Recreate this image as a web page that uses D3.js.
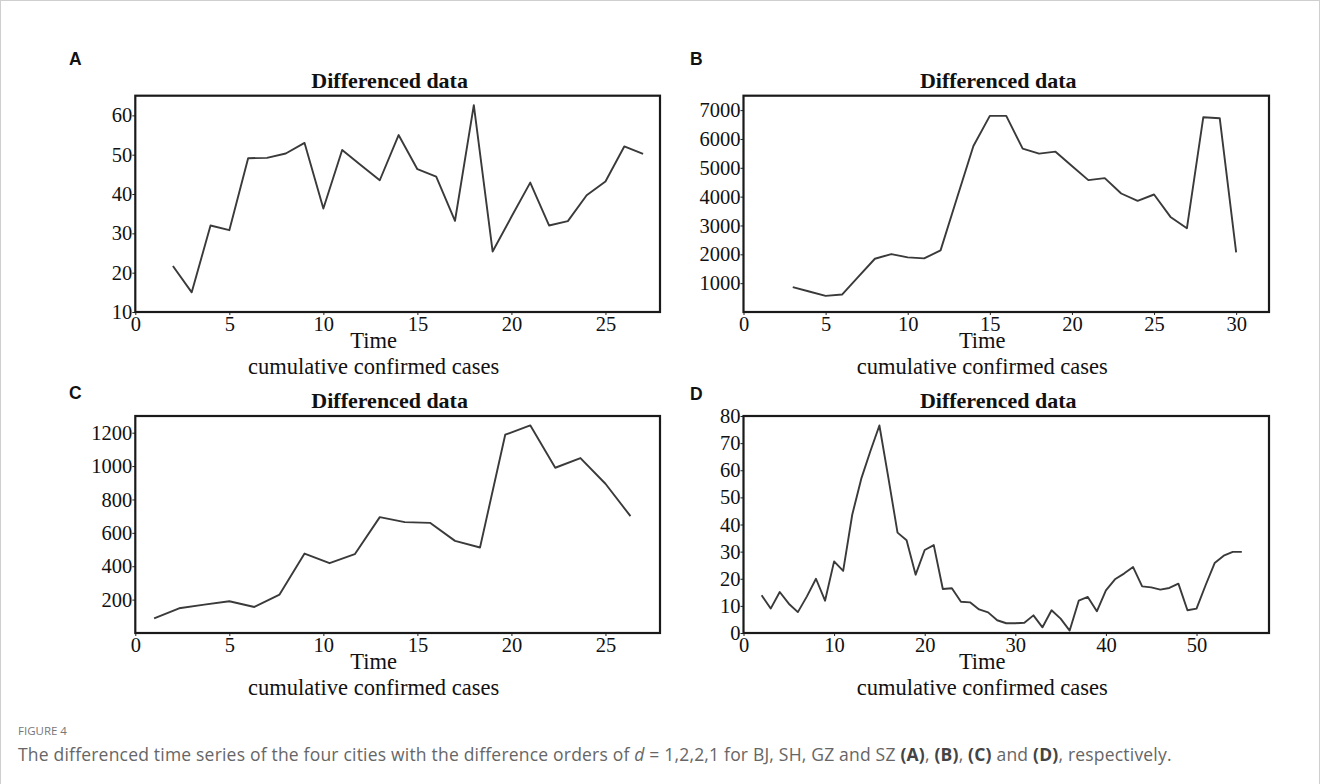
<!DOCTYPE html>
<html>
<head>
<meta charset="utf-8">
<script src="https://cdn.jsdelivr.net/npm/d3@7"></script>
<style>
  html, body { margin: 0; padding: 0; background: #fff; }
  svg { display: block; }
</style>
</head>
<body>
<svg id="fig" width="1320" height="784"></svg>
<script>
// Panel A (BJ), first-order differences
const timeA = [2,3,4,5,6,7,8,9,10,11,12,13,14,15,16,17,18,19,20,21,22,23,24,25,26,27];
const valuesA = [21.7,15,32,30.8,49.1,49.2,50.3,53,36.3,51.2,47.3,43.5,55,46.3,44.4,33.2,62.6,25.4,34.2,42.9,32,33.1,39.7,43.2,52.1,50.2];

// Panel B (SH), second-order differences
const timeB = [3,4,5,6,7,8,9,10,11,12,13,14,15,16,17,18,19,20,21,22,23,24,25,26,27,28,29,30];
const valuesB = [861,710,559,606,1230,1847,2009,1893,1858,2137,3950,5756,6800,6800,5664,5490,5559,5060,4573,4643,4109,3854,4074,3297,2902,6754,6719,2067];

// Panel C (GZ), second-order differences
const timeC = [1,2.33,3.67,5,6.33,7.67,9,10.33,11.67,13,14.33,15.67,17,18.33,19.67,21,22.33,23.67,25,26.33];
const valuesC = [88,148,170,190,156,230,476,418,472,694,664,660,552,512,1188,1244,990,1048,894,700];

// Panel D (SZ), first-order differences
const timeD = [2,3,4,5,6,7,8,9,10,11,12,13,14,15,16,17,18,19,20,21,22,23,24,25,26,27,28,29,30,31,32,33,34,35,36,37,38,39,40,41,42,43,44,45,46,47,48,49,50,51,52,53,54,55];
const valuesD = [13.9,9,15.1,10.8,7.7,13.5,20,11.9,26.4,22.9,43.6,56.9,67,76.5,57,37,34.2,21.5,30.6,32.4,16.2,16.5,11.5,11.3,8.7,7.6,4.7,3.6,3.6,3.8,6.5,2.1,8.4,5.3,0.9,11.9,13.3,8,15.7,19.8,21.9,24.3,17.2,16.8,16,16.6,18.2,8.4,9,17.6,25.8,28.5,29.9,29.9];

// Tick labels per panel
const xTicksA = [0,5,10,15,20,25];
const yTicksA = [10,20,30,40,50,60];
const xTicksB = [0,5,10,15,20,25,30];
const yTicksB = [1000,2000,3000,4000,5000,6000,7000];
const xTicksC = [0,5,10,15,20,25];
const yTicksC = [200,400,600,800,1000,1200];
const xTicksD = [0,10,20,30,40,50];
const yTicksD = [0,10,20,30,40,50,60,70,80];

const panelLetters = ["A","B","C","D"];
const panelTitle = "Differenced data";
const xLabel = "Time";
const subLabel = "cumulative confirmed cases";

const svg = d3.select("#fig");
const serif = "'Liberation Serif', 'Times New Roman', serif";

// outer page frame
svg.append("rect")
  .attr("x", 0.5).attr("y", 0.5).attr("width", 1319).attr("height", 790)
  .attr("fill", "none").attr("stroke", "#cfcfcf").attr("stroke-width", 1);

const panels = [
  {letter: panelLetters[0], t: timeA, v: valuesA, xd: [0, 27.9], yd: [10, 65], xt: xTicksA, yt: yTicksA,
   box: {l: 135.3, r: 660, t: 95.7, b: 312}, lx: 69, ly: 65},
  {letter: panelLetters[1], t: timeB, v: valuesB, xd: [0, 32], yd: [0, 7500], xt: xTicksB, yt: yTicksB,
   box: {l: 743.5, r: 1269, t: 95.7, b: 312}, lx: 690, ly: 65},
  {letter: panelLetters[2], t: timeC, v: valuesC, xd: [0, 27.9], yd: [0, 1300], xt: xTicksC, yt: yTicksC,
   box: {l: 135.3, r: 660, t: 416, b: 633}, lx: 69, ly: 399},
  {letter: panelLetters[3], t: timeD, v: valuesD, xd: [0, 58], yd: [0, 80], xt: xTicksD, yt: yTicksD,
   box: {l: 743.5, r: 1269, t: 416, b: 633}, lx: 690, ly: 400}
];

panels.forEach(p => {
  const {l, r, t, b} = p.box;
  const x = d3.scaleLinear().domain(p.xd).range([l, r]);
  const y = d3.scaleLinear().domain(p.yd).range([b, t]);
  const g = svg.append("g");

  // panel letter
  g.append("text")
    .attr("x", p.lx).attr("y", p.ly)
    .attr("font-family", "'Liberation Sans', Arial, sans-serif")
    .attr("font-weight", "bold").attr("font-size", 17.5)
    .attr("fill", "#111")
    .text(p.letter);

  // title
  g.append("text")
    .attr("x", (l + r) / 2 - 8).attr("y", t - 8)
    .attr("text-anchor", "middle")
    .attr("font-family", serif).attr("font-weight", "bold").attr("font-size", 22)
    .attr("fill", "#111")
    .text(panelTitle);

  // axes
  const xAxis = d3.axisBottom(x).tickValues(p.xt).tickSize(3).tickPadding(1).tickFormat(d3.format("d"));
  const yAxis = d3.axisLeft(y).tickValues(p.yt).tickSize(3).tickPadding(0).tickFormat(d3.format("d"));

  const gx = g.append("g").attr("transform", `translate(0,${b})`).call(xAxis);
  const gy = g.append("g").attr("transform", `translate(${l},0)`).call(yAxis);
  [gx, gy].forEach(ax => {
    ax.select(".domain").remove();
    ax.selectAll(".tick line").attr("stroke", "#222").attr("stroke-width", 1);
    ax.selectAll(".tick text")
      .attr("font-family", serif).attr("font-size", 20.5).attr("fill", "#111");
  });
  gx.selectAll(".tick text").attr("dy", "0.74em");

  // data line
  const line = d3.line().x((d, i) => x(p.t[i])).y(d => y(d));
  g.append("path")
    .datum(p.v)
    .attr("d", line)
    .attr("fill", "none")
    .attr("stroke", "#3a3a3a")
    .attr("stroke-width", 1.9)
    .attr("stroke-linejoin", "round");

  // frame
  g.append("rect")
    .attr("x", l).attr("y", t).attr("width", r - l).attr("height", b - t)
    .attr("fill", "none").attr("stroke", "#1a1a1a").attr("stroke-width", 2.2);

  // axis labels
  const cx = (l + r) / 2 - 24;
  g.append("text")
    .attr("x", cx).attr("y", b + 36)
    .attr("text-anchor", "middle")
    .attr("font-family", serif).attr("font-size", 22.5).attr("fill", "#111")
    .text(xLabel);
  g.append("text")
    .attr("x", cx).attr("y", b + 62)
    .attr("text-anchor", "middle")
    .attr("font-family", serif).attr("font-size", 22.5).attr("fill", "#111")
    .text(subLabel);
});

// figure caption
const sans = "'Open Sans', 'Noto Sans', sans-serif";
svg.append("text")
  .attr("x", 18).attr("y", 735)
  .attr("font-family", sans).attr("font-size", 11.5).attr("fill", "#777")
  .text("FIGURE 4");

const cap = svg.append("text")
  .attr("x", 18).attr("y", 761)
  .attr("font-family", sans).attr("font-size", 17.5).attr("letter-spacing", 0.2)
  .attr("fill", "#666");
const capParts = [
  {t: "The differenced time series of the four cities with the difference orders of "},
  {t: "d", s: "italic"},
  {t: " = 1,2,2,1 for BJ, SH, GZ and SZ "},
  {t: "(A)", w: "bold"}, {t: ", "}, {t: "(B)", w: "bold"}, {t: ", "},
  {t: "(C)", w: "bold"}, {t: " and "}, {t: "(D)", w: "bold"}, {t: ", respectively."}
];
capParts.forEach(c => {
  const ts = cap.append("tspan").text(c.t);
  if (c.s) ts.attr("font-style", c.s);
  if (c.w) ts.attr("font-weight", c.w).attr("fill", "#444");
});
</script>
</body>
</html>
